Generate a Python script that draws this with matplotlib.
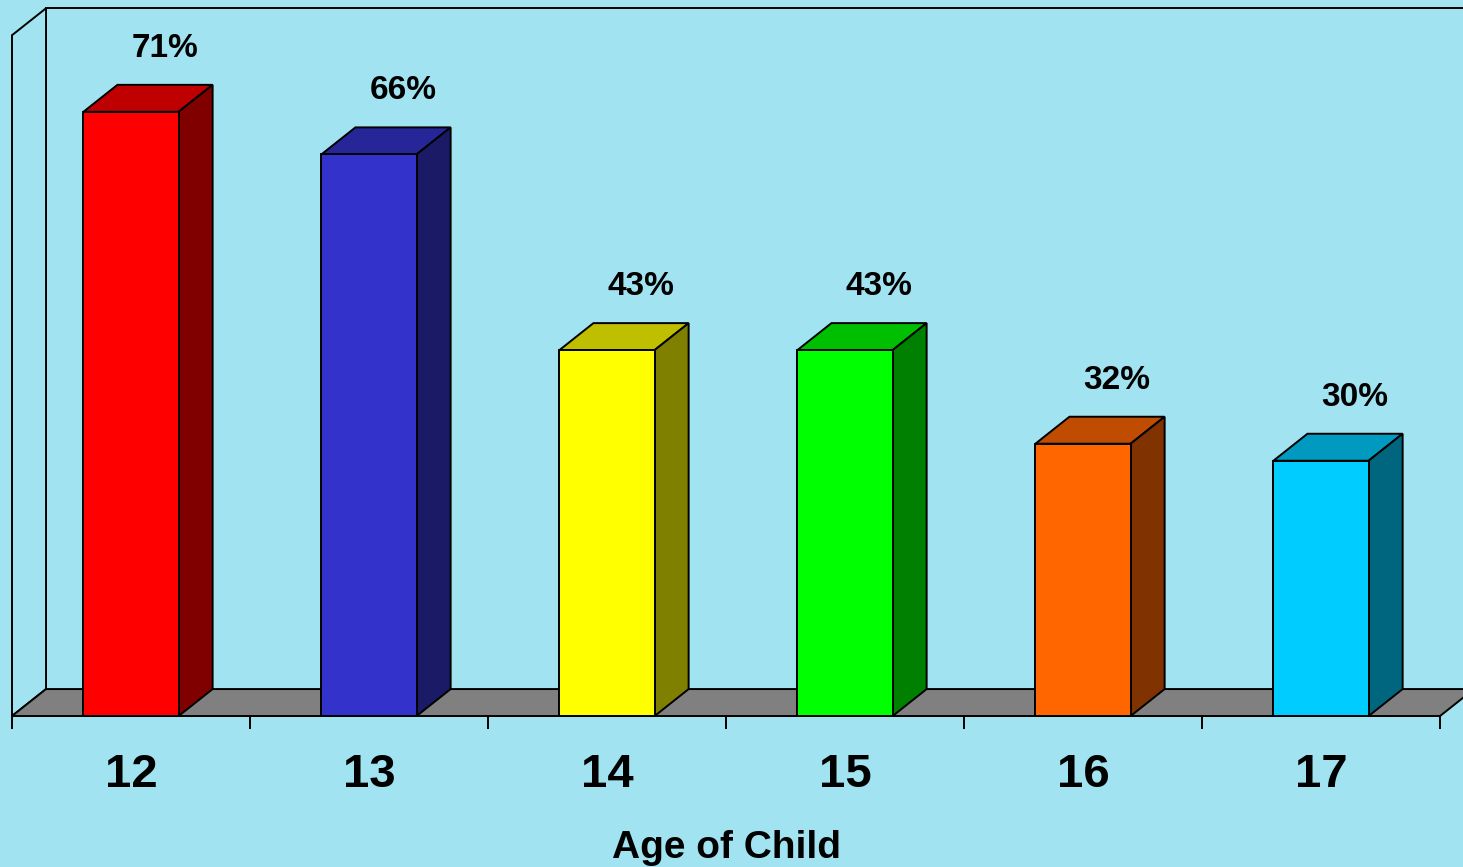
import matplotlib.pyplot as plt
from matplotlib.patches import Polygon

ages = ['12', '13', '14', '15', '16', '17']
values = [71, 66, 43, 43, 32, 30]
front_colors = ['#FF0000', '#3333CC', '#FFFF00', '#00FF00', '#FF6600', '#00CCFF']
top_colors = ['#BF0000', '#262699', '#BFBF00', '#00BF00', '#BF4C00', '#0099BF']
side_colors = ['#800000', '#1A1A66', '#808000', '#008000', '#803300', '#006680']
xlabel = 'Age of Child'

bg = '#A1E3F0'
ymax = 80          # height of the walls, in percent
dx, dy = 0.143, 3.17   # 3d depth offset (x in category units, y in percent)
w = 0.4            # bar width

plt.rcParams['font.family'] = ['Liberation Sans', 'DejaVu Sans']
fig = plt.figure(figsize=(14.63, 8.67), dpi=100, facecolor=bg)
ax = fig.add_axes([0, 0, 1, 1])
ax.set_facecolor(bg)
ax.set_xlim(-0.5504, 5.5966)
ax.set_ylim(-17.74, 84.14)
ax.axis('off')

n = len(ages)
lw = 1.4
x0, x1 = -0.5, n - 0.5

# left wall
ax.add_patch(Polygon([(x0, 0), (x0, ymax), (x0 + dx, ymax + dy), (x0 + dx, dy)],
                     closed=True, facecolor=bg, edgecolor='black', lw=lw))
# back wall top edge
ax.plot([x0 + dx, x1 + dx + 1], [ymax + dy, ymax + dy], color='black', lw=lw)
# floor
ax.add_patch(Polygon([(x0, 0), (x0 + dx, dy), (x1 + dx, dy), (x1, 0)],
                     closed=True, facecolor='#808080', edgecolor='black', lw=lw))
# tick marks
ax.vlines([x0 + k for k in range(n + 1)], -1.5, 0, color='black', lw=lw)

for i, v in enumerate(values):
    l, r = i - w / 2, i + w / 2
    ax.add_patch(Polygon([(l, v), (l + dx, v + dy), (r + dx, v + dy), (r, v)],
                         closed=True, facecolor=top_colors[i], edgecolor='black', lw=lw))
    ax.add_patch(Polygon([(r, 0), (r + dx, dy), (r + dx, v + dy), (r, v)],
                         closed=True, facecolor=side_colors[i], edgecolor='black', lw=lw))
    ax.add_patch(Polygon([(l, 0), (l, v), (r, v), (r, 0)],
                         closed=True, facecolor=front_colors[i], edgecolor='black', lw=lw))
    ax.text(i + dx, v + dy + 4.3, f'{v}%', ha='center', va='center',
            fontsize=24, fontweight='bold', color='black')
    ax.text(i, -6.9, ages[i], ha='center', va='center',
            fontsize=34, fontweight='bold', color='black')

ax.text((x0 + x1) / 2, -15.5, xlabel, ha='center', va='center',
        fontsize=28, fontweight='bold', color='black')

fig.savefig('out.png', dpi=100, facecolor=bg)
